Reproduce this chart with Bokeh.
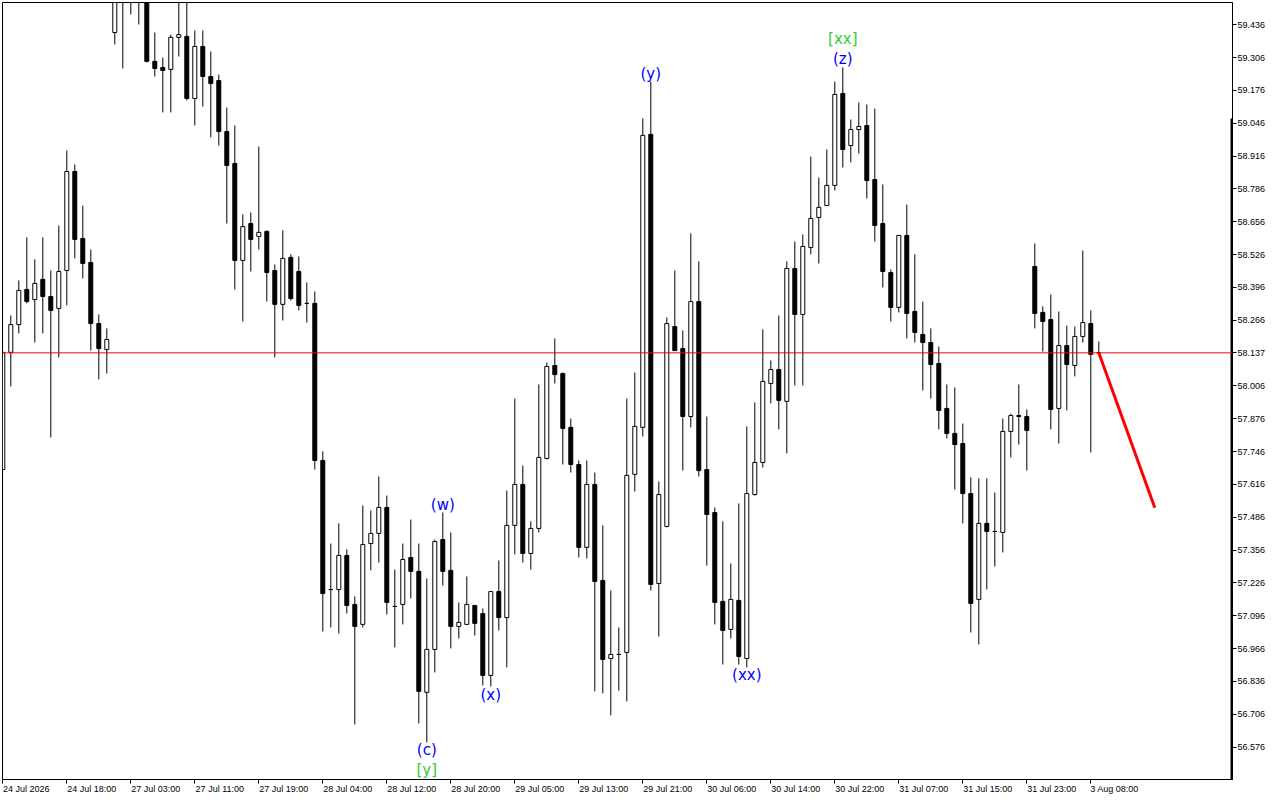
from bokeh.plotting import figure
from bokeh.models import ColumnDataSource, FixedTicker, Span, NumeralTickFormatter, Range1d
from bokeh.embed import file_html
from bokeh.resources import INLINE
from bokeh.core.properties import value

# ---------------- data (hourly bars, bar index = position) ----------------
opens = [57.675, 58.139, 58.249, 58.388, 58.348, 58.428, 58.360, 58.313, 58.463, 58.855,
         58.590, 58.495, 58.253, 58.150, 59.405, 59.631, 59.552, 59.611, 59.552, 59.291,
         59.267, 59.259, 59.386, 59.390, 59.144, 59.350, 59.231, 59.215, 59.013, 58.887,
         58.503, 58.649, 58.598, 58.618, 58.463, 58.329, 58.515, 58.459, 58.333, 58.333,
         57.711, 57.200, 57.200, 57.335, 57.141, 57.062, 57.382, 57.422, 57.525, 57.133,
         57.141, 57.327, 57.272, 56.793, 56.963, 57.398, 57.276, 57.054, 57.062, 57.137,
         57.105, 56.860, 57.192, 57.089, 57.454, 57.616, 57.343, 57.442, 57.719, 58.087,
         58.055, 57.842, 57.695, 57.367, 57.616, 57.236, 56.927, 56.943, 56.951, 57.656,
         57.842, 59.002, 57.224, 57.450, 58.241, 58.154, 57.885, 58.340, 57.675, 57.505,
         57.153, 57.042, 57.157, 56.927, 57.576, 57.703, 58.016, 58.071, 57.945, 58.471,
         58.289, 58.554, 58.673, 58.720, 58.800, 59.164, 58.958, 59.021, 59.037, 58.823,
         58.649, 58.455, 58.317, 58.602, 58.301, 58.210, 58.178, 58.095, 57.917, 57.818,
         57.778, 57.580, 57.161, 57.462, 57.430, 57.426, 57.826, 57.889, 57.885, 58.479,
         58.297, 58.269, 57.917, 58.166, 58.087, 58.202, 58.253, 58.137]
highs = [58.139, 58.285, 58.424, 58.594, 58.507, 58.594, 58.463, 58.641, 58.938, 58.883,
         58.720, 58.546, 58.289, 58.234, 59.611, 59.671, 59.631, 59.651, 59.591, 59.405,
         59.306, 59.397, 59.552, 59.552, 59.413, 59.413, 59.330, 59.239, 59.108, 59.037,
         58.685, 58.693, 58.954, 58.622, 58.487, 58.622, 58.527, 58.519, 58.416, 58.380,
         57.747, 57.382, 57.462, 57.359, 57.173, 57.533, 57.513, 57.648, 57.572, 57.279,
         57.382, 57.477, 57.382, 57.244, 57.398, 57.505, 57.426, 57.149, 57.252, 57.137,
         57.125, 57.192, 57.315, 57.592, 57.956, 57.691, 57.470, 58.012, 58.099, 58.194,
         58.059, 57.877, 57.711, 57.711, 57.663, 57.454, 57.196, 57.050, 57.956, 58.059,
         59.065, 59.211, 57.628, 58.277, 58.463, 58.226, 58.610, 58.499, 57.885, 57.525,
         57.470, 57.303, 57.541, 57.846, 57.941, 58.230, 58.107, 58.285, 58.499, 58.578,
         58.606, 58.914, 58.831, 58.942, 59.211, 59.267, 59.061, 59.128, 59.120, 59.104,
         58.804, 58.467, 58.602, 58.724, 58.527, 58.340, 58.234, 58.162, 58.012, 58.000,
         57.857, 57.644, 57.640, 57.640, 57.584, 57.877, 57.897, 58.012, 57.913, 58.570,
         58.321, 58.368, 58.301, 58.245, 58.241, 58.542, 58.305, 58.182]
lows = [57.675, 58.004, 58.214, 58.333, 58.178, 58.214, 57.802, 58.119, 58.325, 58.511,
        58.432, 58.146, 58.032, 58.055, 59.358, 59.263, 59.477, 59.437, 59.287, 59.231,
        59.089, 59.089, 59.310, 59.136, 59.037, 59.112, 58.990, 58.958, 58.649, 58.388,
        58.261, 58.459, 58.546, 58.340, 58.119, 58.265, 58.344, 58.305, 58.257, 57.675,
        57.034, 57.050, 57.026, 57.105, 56.666, 57.050, 57.276, 57.307, 57.101, 56.971,
        57.062, 57.165, 56.670, 56.595, 56.872, 57.216, 56.967, 57.006, 57.062, 57.018,
        56.820, 56.816, 57.038, 56.892, 57.339, 57.307, 57.279, 57.426, 57.715, 58.016,
        57.695, 57.663, 57.327, 57.323, 56.797, 56.789, 56.702, 56.800, 56.757, 57.588,
        57.806, 57.196, 57.014, 57.446, 58.146, 57.671, 57.842, 57.648, 57.295, 57.062,
        56.903, 57.006, 56.903, 56.892, 57.572, 57.683, 57.937, 57.834, 57.739, 58.008,
        58.008, 58.527, 58.491, 58.720, 58.780, 58.871, 58.891, 58.926, 58.748, 58.578,
        58.396, 58.261, 58.297, 58.194, 58.178, 57.988, 57.956, 57.834, 57.798, 57.596,
        57.462, 57.030, 56.983, 57.200, 57.291, 57.347, 57.723, 57.774, 57.671, 58.234,
        58.142, 57.834, 57.778, 57.909, 58.044, 58.178, 57.743, 58.135]
closes = [58.139, 58.249, 58.384, 58.340, 58.412, 58.360, 58.305, 58.459, 58.855, 58.586,
          58.491, 58.253, 58.154, 58.190, 59.564, 59.564, 59.591, 59.552, 59.291, 59.263,
          59.255, 59.386, 59.397, 59.144, 59.350, 59.231, 59.203, 59.013, 58.879, 58.503,
          58.637, 58.586, 58.614, 58.455, 58.329, 58.511, 58.352, 58.325, 58.333, 57.711,
          57.184, 57.200, 57.335, 57.137, 57.054, 57.378, 57.422, 57.525, 57.149, 57.133,
          57.319, 57.272, 56.797, 56.963, 57.390, 57.272, 57.054, 57.070, 57.141, 57.066,
          56.860, 57.192, 57.089, 57.454, 57.616, 57.343, 57.442, 57.723, 58.083, 58.051,
          57.838, 57.695, 57.367, 57.616, 57.232, 56.923, 56.943, 56.943, 57.652, 57.846,
          58.998, 57.220, 57.576, 58.253, 58.146, 57.885, 58.340, 57.671, 57.497, 57.149,
          57.038, 57.161, 56.935, 57.580, 57.703, 58.024, 58.071, 57.949, 58.471, 58.289,
          58.558, 58.669, 58.713, 58.800, 59.160, 58.942, 59.021, 59.033, 58.819, 58.641,
          58.459, 58.317, 58.602, 58.293, 58.218, 58.178, 58.091, 57.909, 57.818, 57.774,
          57.580, 57.145, 57.462, 57.430, 57.430, 57.826, 57.889, 57.885, 57.830, 58.293,
          58.261, 57.913, 58.166, 58.091, 58.202, 58.257, 58.131, 58.137]

x_tick_bars = [0, 8, 16, 24, 32, 40, 48, 56, 64, 72, 80, 88, 96, 104, 112, 120, 128, 136]
x_tick_labels = ["24 Jul 2026", "24 Jul 18:00", "27 Jul 03:00", "27 Jul 11:00", "27 Jul 19:00",
                 "28 Jul 04:00", "28 Jul 12:00", "28 Jul 20:00", "29 Jul 05:00", "29 Jul 13:00",
                 "29 Jul 21:00", "30 Jul 06:00", "30 Jul 14:00", "30 Jul 22:00", "31 Jul 07:00",
                 "31 Jul 15:00", "31 Jul 23:00", "3 Aug 08:00"]
y_ticks = [56.576, 56.706, 56.836, 56.966, 57.096, 57.226, 57.356, 57.486, 57.616, 57.746,
           57.876, 58.006, 58.136, 58.266, 58.396, 58.526, 58.656, 58.786, 58.916, 59.046,
           59.176, 59.306, 59.436]
current_price = 58.137
# the current-price mark replaces the grid tick it covers
y_ticks = sorted([t for t in y_ticks if abs(t - current_price) > 0.005] + [current_price])

wave_texts = ["(c)", "[y]", "(w)", "(x)", "(y)", "(xx)", "(z)", "[xx]"]
wave_bars = [53, 53, 55, 61, 81, 93, 105, 105]
wave_side = ["below", "below", "above", "below", "above", "below", "above", "above"]
wave_row = [0, 1, 0, 0, 0, 0, 0, 1]
wave_colors = ["#0000ff", "#33cc33", "#0000ff", "#0000ff", "#0000ff", "#0000ff", "#0000ff", "#33cc33"]

forecast_bars = [137, 144]
forecast_prices = [58.137, 57.524]

scroll_marker_top = 59.065

# ---------------- figure ----------------
X0, X1 = -0.0375, 153.7125
Y0, Y1 = 56.448, 59.524

p = figure(width=1280, height=800, output_backend="svg", toolbar_location=None,
           x_range=Range1d(X0, X1), y_range=Range1d(Y0, Y1), y_axis_location="right",
           min_border_left=2, min_border_top=2, min_border_right=48, min_border_bottom=21,
           background_fill_color="white", border_fill_color="white")
p.grid.visible = False
p.outline_line_color = "black"
p.outline_line_width = 1

idx = list(range(len(opens)))
bull = [c >= o for o, c in zip(opens, closes)]
src_all = ColumnDataSource(dict(x=idx, high=highs, low=lows))
src_bull = ColumnDataSource(dict(
    x=[i for i in idx if bull[i]],
    top=[closes[i] for i in idx if bull[i]],
    bottom=[opens[i] for i in idx if bull[i]]))
src_bear = ColumnDataSource(dict(
    x=[i for i in idx if not bull[i]],
    top=[opens[i] for i in idx if not bull[i]],
    bottom=[closes[i] for i in idx if not bull[i]]))

p.segment(x0="x", y0="low", x1="x", y1="high", source=src_all, line_color="black", line_width=1)
p.vbar(x="x", top="top", bottom="bottom", width=0.5, source=src_bull,
       fill_color="white", line_color="black", line_width=1)
p.vbar(x="x", top="top", bottom="bottom", width=0.5, source=src_bear,
       fill_color="black", line_color="black", line_width=1)

p.add_layout(Span(location=current_price, dimension="width", line_color="#ff0000", line_width=1))

p.line(forecast_bars, forecast_prices, line_color="#ff0000", line_width=3)

# thick marker on the price-scale line
p.segment(x0=[X1], y0=[Y0], x1=[X1], y1=[scroll_marker_top], line_color="black", line_width=4)

# wave labels
for t, b, s, r, c in zip(wave_texts, wave_bars, wave_side, wave_row, wave_colors):
    if s == "below":
        y = lows[b]
        base = "top"
        off = -1 + 20 * r
    else:
        y = highs[b]
        base = "bottom"
        off = 1 - 20 * r
    p.text(x=[b], y=[y], text=[t], text_color=c, text_align="center", text_baseline=base,
           y_offset=off, text_font=value("DejaVu Sans"), text_font_size="15px")

# axes
AXIS_FONT = "Liberation Sans"
p.yaxis.ticker = FixedTicker(ticks=y_ticks)
p.yaxis.formatter = NumeralTickFormatter(format="0.000")
p.yaxis.major_tick_out = 4
p.yaxis.major_tick_in = 0
p.yaxis.minor_tick_line_color = None
p.yaxis.major_label_standoff = 1
p.yaxis.major_label_text_font = AXIS_FONT
p.yaxis.major_label_text_font_size = "9px"
p.yaxis.major_label_text_color = "black"
p.yaxis.axis_line_color = "black"

W = {d: 0.556 for d in "0123456789"}
W.update({" ": 0.278, ":": 0.278, "J": 0.5, "u": 0.556, "l": 0.222, "A": 0.667, "g": 0.556})

def left_aligned(s, first=False):
    if first:
        return "\u00a0" + s
    w = sum(W.get(ch, 0.556) for ch in s)
    return "\u00a0" * round(w / 0.278) + s

p.xaxis.ticker = FixedTicker(ticks=x_tick_bars)
p.xaxis.major_label_overrides = {b: left_aligned(l, i == 0)
                                 for i, (b, l) in enumerate(zip(x_tick_bars, x_tick_labels))}
p.xaxis.major_tick_out = 4
p.xaxis.major_tick_in = 0
p.xaxis.minor_tick_line_color = None
p.xaxis.major_label_standoff = 0
p.xaxis.major_label_text_font = AXIS_FONT
p.xaxis.major_label_text_font_size = "9px"
p.xaxis.major_label_text_color = "black"
p.xaxis.axis_line_color = "black"

open("out.html", "w").write(file_html(p, INLINE))
